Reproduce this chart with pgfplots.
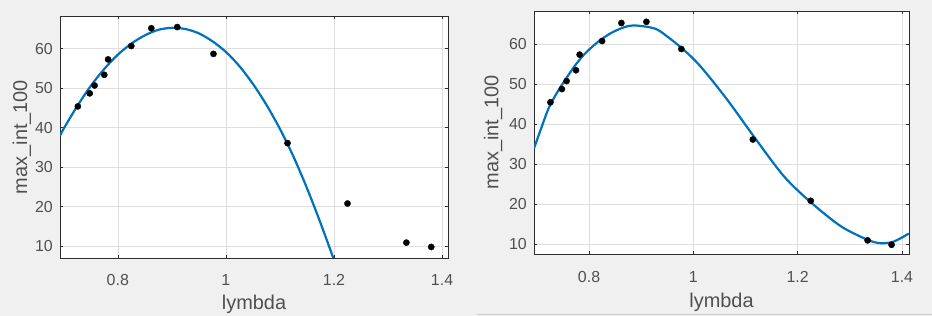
\documentclass[border=0pt]{standalone}
\usepackage{fontspec}
\setmainfont{Liberation Sans}
\usepackage{pgfplots}
\usepackage{pgfplotstable}
\pgfplotsset{compat=1.18}
\definecolor{mblue}{RGB}{0,114,189}
\definecolor{bg}{RGB}{240,240,240}
\definecolor{txt}{RGB}{80,80,80}
\definecolor{grd}{RGB}{222,222,222}
\definecolor{axc}{RGB}{45,45,45}

\pgfplotstableread{
x y
0.726 45.4
0.748 48.7
0.757 50.7
0.775 53.4
0.782 57.3
0.825 60.7
0.862 65.2
0.910 65.5
0.977 58.7
1.114 36.1
1.225 20.8
1.334 10.9
1.380 9.8
}\pts

\pgfplotstableread{
x y
0.693 38.0
0.700 39.8
0.725 45.5
0.750 50.6
0.775 54.9
0.800 58.5
0.825 61.3
0.850 63.4
0.875 64.8
0.900 65.3
0.925 65.0
0.950 63.9
0.975 61.9
1.000 59.2
1.025 55.6
1.050 51.1
1.075 45.8
1.100 39.7
1.125 32.7
1.150 24.7
1.175 15.9
1.200 6.5
1.210 2.5
}\fitA

\pgfplotstableread{
x y
0.6945 33.9
0.7066 38.3
0.7225 43.9
0.7386 47.8
0.7513 50.4
0.7705 54.1
0.7896 57.2
0.8153 60.3
0.8408 62.6
0.8663 64.1
0.8855 64.6
0.9175 64.1
0.9367 63.1
0.978 58.9
1.0134 54.4
1.0646 46.1
1.1157 36.9
1.173 27.0
1.2244 20.5
1.282 14.5
1.333 11.1
1.3586 10.2
1.384 10.6
1.413 12.6
}\fitB

\pgfplotsset{mstyle/.style={
  scale only axis, anchor=south west,
  xmin=0.693, xmax=1.411, ymin=7, ymax=68.3,
  xtick={0.8,1,1.2,1.4}, xticklabels={0.8,1,1.2,1.4},
  ytick={10,20,30,40,50,60},
  grid=major, major grid style={grd, line width=0.6bp},
  tick align=inside, major tick length=3bp,
  tick style={axc, line width=0.6bp},
  xtick pos=both, ytick pos=both,
  axis line style={axc, line width=0.9bp},
  axis background/.style={fill=white},
  /pgf/number format/assume math mode=true,
  ticklabel style={font=\fontsize{16}{16}\selectfont, text=txt, inner sep=0pt},
  xticklabel style={anchor=base, yshift=-28bp},
  yticklabel style={anchor=east, xshift=-7bp},
  label style={font=\fontsize{20}{20}\selectfont, text=txt},
  xlabel={lymbda}, ylabel={max\_int\_100},
  clip=true,
}}

\begin{document}
\begin{tikzpicture}
\fill[bg] (0,0) rectangle (932bp,316bp);
\useasboundingbox (0,0) rectangle (932bp,316bp);
\draw[color=black!20, line width=1bp] (477bp,1.5bp) -- (932bp,1.5bp);

\begin{axis}[mstyle, at={(60bp,58bp)}, width=388bp, height=242bp,
  xlabel style={at={(axis description cs:0.5,-0.211)}, anchor=base},
  ylabel style={at={(axis description cs:-0.098,0.5)}, anchor=center}]
\addplot[mblue, line width=2.2bp, smooth, tension=0.5, no marks] table[x=x,y=y] {\fitA};
\addplot[only marks, mark=*, mark size=3.1bp, black] table[x=x,y=y] {\pts};
\end{axis}

\begin{axis}[mstyle, at={(534bp,62bp)}, width=375bp, height=243bp,
  xmin=0.6945, xmax=1.4134, ymin=7.5, ymax=68.2,
  xlabel style={at={(axis description cs:0.5,-0.222)}, anchor=base},
  ylabel style={at={(axis description cs:-0.109,0.5)}, anchor=center}]
\addplot[mblue, line width=2.2bp, smooth, tension=0.5, no marks] table[x=x,y=y] {\fitB};
\addplot[only marks, mark=*, mark size=3.1bp, black] table[x=x,y=y] {\pts};
\end{axis}
\end{tikzpicture}
\end{document}
